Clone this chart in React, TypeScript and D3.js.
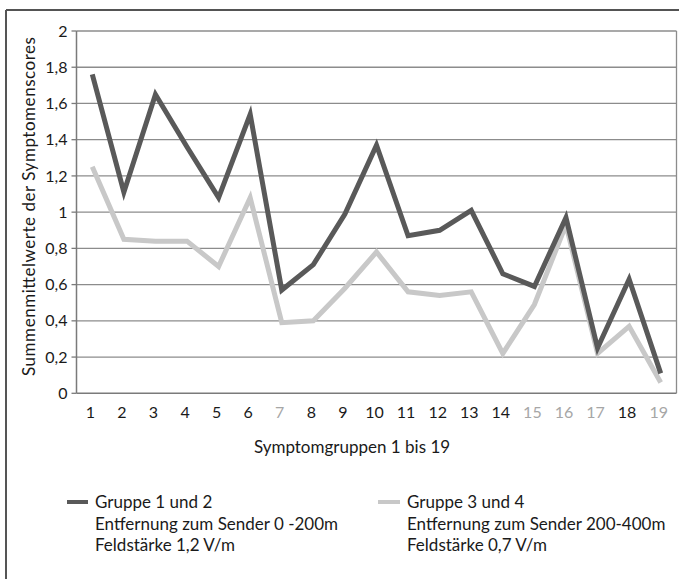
import React from 'react';
import * as d3 from 'd3';

// Symptomgruppen 1..19
const categories = ['1', '2', '3', '4', '5', '6', '7', '8', '9', '10', '11', '12', '13', '14', '15', '16', '17', '18', '19'];
const grayLabels = ['7', '15', '16', '17', '19'];

const gruppe12 = [1.76, 1.11, 1.65, 1.36, 1.08, 1.54, 0.57, 0.71, 0.99, 1.37, 0.87, 0.9, 1.01, 0.66, 0.59, 0.97, 0.25, 0.63, 0.11];
const gruppe34 = [1.25, 0.85, 0.84, 0.84, 0.7, 1.08, 0.39, 0.4, 0.58, 0.78, 0.56, 0.54, 0.56, 0.22, 0.49, 0.93, 0.22, 0.37, 0.06];

const yTicks = [0, 0.2, 0.4, 0.6, 0.8, 1, 1.2, 1.4, 1.6, 1.8, 2];

const legendLeft = ['Gruppe 1 und 2', 'Entfernung zum Sender 0 -200m', 'Feldstärke 1,2 V/m'];
const legendRight = ['Gruppe 3 und 4', 'Entfernung zum Sender 200-400m', 'Feldstärke 0,7 V/m'];

const W = 679;
const H = 579;
const plot = { left: 76.5, right: 676.5, top: 31, bottom: 393.3 };
const DARK = '#595959';
const LIGHT = '#c8c8c8';
const FONT = 'Lato, "Open Sans", sans-serif';

export default function App() {
  const x = d3.scaleBand<string>().domain(categories).range([plot.left, plot.right]);
  const y = d3.scaleLinear().domain([0, 2]).range([plot.bottom, plot.top]);
  const cx = (c: string) => (x(c) as number) + x.bandwidth() / 2;

  const line = d3.line<number>()
    .x((d, i) => cx(categories[i]))
    .y(d => y(d));

  const fmt = (v: number) => String(+v.toFixed(1)).replace('.', ',');

  return (
    <svg width={W} height={H} style={{ position: 'absolute', left: 0, top: 0, background: 'white' }}
      fontFamily={FONT}>
      {/* outer frame */}
      <line x1={6} x2={W} y1={10} y2={10} stroke="#1a1a1a" strokeWidth={1.5} />
      <line x1={6} x2={6} y1={10} y2={H} stroke="#555" strokeWidth={2} />

      {/* gridlines */}
      {yTicks.filter(t => t > 0).map(t => (
        <line key={t} x1={plot.left} x2={plot.right} y1={y(t)} y2={y(t)} stroke="#8c8c8c" strokeWidth={1.3} />
      ))}
      <line x1={plot.right} x2={plot.right} y1={plot.top} y2={plot.bottom} stroke="#8c8c8c" strokeWidth={1.3} />

      {/* axes */}
      <line x1={plot.left} x2={plot.right} y1={plot.bottom} y2={plot.bottom} stroke="#7a7a7a" strokeWidth={1.5} />
      <line x1={plot.left} x2={plot.left} y1={plot.top} y2={plot.bottom} stroke="#7a7a7a" strokeWidth={1.5} />
      {yTicks.map(t => (
        <g key={t}>
          <line x1={plot.left - 5} x2={plot.left} y1={y(t)} y2={y(t)} stroke="#7a7a7a" strokeWidth={1.3} />
          <text x={plot.left - 9} y={y(t)} dy="0.35em" textAnchor="end" fontSize={16} fill="#1a1a1a">{fmt(t)}</text>
        </g>
      ))}
      {categories.map(c => (
        <text key={c} x={cx(c) - 2} y={412} dy="0.35em" textAnchor="middle" fontSize={16}
          fill={grayLabels.includes(c) ? '#a6a6a6' : '#1a1a1a'}>{c}</text>
      ))}

      {/* axis titles */}
      <text transform="translate(35,206.5) rotate(-90)" textAnchor="middle" fontSize={17} fill="#1a1a1a"
        textLength={339} lengthAdjust="spacing">Summenmittelwerte der Symptomenscores</text>
      <text x={352} y={447} dy="0.35em" textAnchor="middle" fontSize={17} fill="#1a1a1a">Symptomgruppen 1 bis 19</text>

      {/* series */}
      <path d={line(gruppe34) || ''} fill="none" stroke={LIGHT} strokeWidth={5} strokeLinejoin="miter" />
      <path d={line(gruppe12) || ''} fill="none" stroke={DARK} strokeWidth={5} strokeLinejoin="miter" />

      {/* legend */}
      <rect x={67} y={500} width={21} height={4} fill={DARK} />
      {legendLeft.map((s, i) => (
        <text key={s} x={95} y={502 + i * 21.7} dy="0.35em" fontSize={17} fill="#1a1a1a">{s}</text>
      ))}
      <rect x={378} y={500} width={22} height={4} fill={LIGHT} />
      {legendRight.map((s, i) => (
        <text key={s} x={407} y={502 + i * 21.7} dy="0.35em" fontSize={17} fill="#1a1a1a">{s}</text>
      ))}
    </svg>
  );
}
